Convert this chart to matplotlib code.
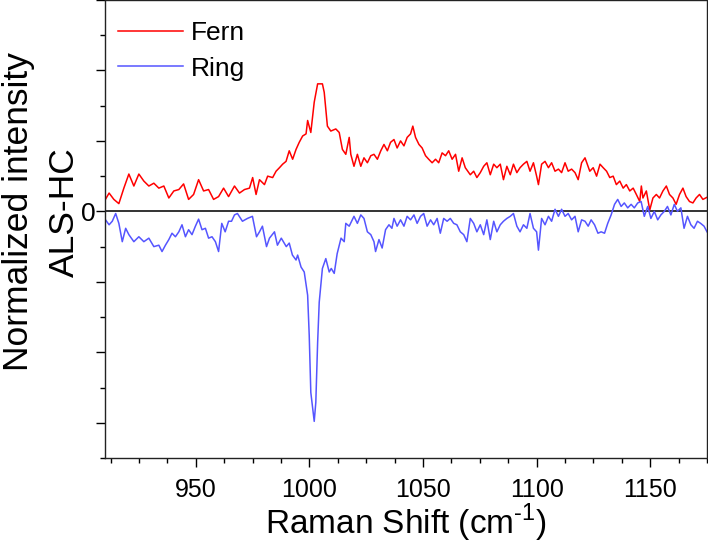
import matplotlib
matplotlib.use("Agg")
import matplotlib.pyplot as plt
from matplotlib.ticker import MultipleLocator, FuncFormatter

plt.rcParams['font.family'] = ['Liberation Sans', 'DejaVu Sans']

# Fern spectrum (red)
fern_x = [910.0, 911.8, 913.9, 916.1, 918.3, 920.5, 922.7, 924.9, 927.1, 929.3,
          931.5, 933.7, 935.9, 938.1, 940.3, 942.5, 944.6, 946.8, 949.0, 951.2,
          953.4, 955.6, 957.8, 960.0, 962.2, 964.4, 967.0, 969.2, 971.4, 973.6,
          975.0, 976.5, 978.0, 980.2, 981.6, 983.8, 985.3, 986.8, 988.2, 989.7,
          991.1, 992.6, 994.1, 995.5, 997.0, 998.5, 999.2, 1000.6, 1002.1, 1003.6,
          1005.7, 1006.5, 1007.9, 1009.4, 1011.6, 1013.1, 1014.5, 1016.0, 1017.5, 1018.2,
          1019.6, 1021.1, 1022.6, 1024.0, 1025.5, 1027.0, 1028.4, 1029.9, 1031.4, 1032.8,
          1034.3, 1035.7, 1037.2, 1038.6, 1040.1, 1041.6, 1043.0, 1044.5, 1045.5, 1046.7,
          1048.2, 1049.6, 1051.1, 1052.5, 1054.0, 1055.5, 1056.9, 1058.4, 1059.9, 1061.3,
          1062.8, 1064.3, 1065.7, 1067.2, 1068.6, 1070.8, 1072.3, 1073.7, 1075.2, 1076.7,
          1078.1, 1079.6, 1081.1, 1082.5, 1084.0, 1085.4, 1086.9, 1088.4, 1089.8, 1091.3,
          1092.7, 1094.2, 1095.7, 1097.1, 1098.6, 1100.0, 1100.8, 1102.2, 1103.7, 1105.2,
          1106.6, 1108.1, 1109.6, 1111.0, 1112.5, 1113.9, 1115.4, 1116.9, 1118.3, 1119.8,
          1121.3, 1123.4, 1124.9, 1126.4, 1127.9, 1129.3, 1130.8, 1132.2, 1133.7, 1135.1,
          1136.6, 1138.1, 1139.5, 1141.0, 1142.5, 1143.9, 1145.4, 1146.1, 1146.8, 1148.3,
          1149.8, 1151.2, 1152.7, 1154.1, 1155.6, 1157.1, 1158.5, 1160.0, 1161.4, 1162.9,
          1164.4, 1165.8, 1167.3, 1168.8, 1170.2, 1171.7, 1173.2, 1175.0]
fern_y = [0.16, 0.26, 0.17, 0.11, 0.33, 0.53, 0.36, 0.53, 0.43, 0.36,
          0.40, 0.33, 0.36, 0.19, 0.29, 0.31, 0.39, 0.17, 0.24, 0.45,
          0.29, 0.31, 0.17, 0.21, 0.33, 0.21, 0.36, 0.26, 0.31, 0.33,
          0.48, 0.24, 0.45, 0.38, 0.50, 0.48, 0.57, 0.62, 0.67, 0.71,
          0.86, 0.74, 0.88, 0.98, 1.07, 1.10, 1.29, 1.12, 1.55, 1.81,
          1.81, 1.69, 1.21, 1.14, 1.17, 1.12, 0.88, 0.81, 1.05, 0.81,
          0.64, 0.81, 0.64, 0.76, 0.69, 0.79, 0.81, 0.74, 0.86, 0.95,
          0.86, 0.98, 1.02, 0.90, 1.00, 0.93, 1.05, 1.10, 1.21, 1.05,
          0.95, 0.90, 0.79, 0.74, 0.69, 0.74, 0.69, 0.83, 0.79, 0.86,
          0.74, 0.81, 0.57, 0.76, 0.62, 0.52, 0.57, 0.48, 0.55, 0.64,
          0.69, 0.52, 0.67, 0.62, 0.67, 0.45, 0.64, 0.52, 0.67, 0.55,
          0.62, 0.67, 0.71, 0.57, 0.69, 0.50, 0.38, 0.67, 0.71, 0.62,
          0.69, 0.57, 0.60, 0.55, 0.69, 0.57, 0.60, 0.55, 0.45, 0.69,
          0.76, 0.57, 0.62, 0.50, 0.67, 0.62, 0.57, 0.48, 0.50, 0.38,
          0.43, 0.33, 0.38, 0.29, 0.33, 0.24, 0.14, 0.36, 0.19, 0.29,
          0.02, 0.19, 0.24, 0.19, 0.29, 0.36, 0.24, 0.19, 0.10, 0.24,
          0.33, 0.21, 0.14, 0.12, 0.19, 0.24, 0.17, 0.20]

# Ring spectrum (blue)
ring_x = [910.0, 911.8, 913.2, 914.7, 916.1, 917.6, 919.1, 920.5, 922.7, 924.9,
          927.1, 929.3, 931.5, 933.7, 935.1, 936.6, 938.1, 939.5, 941.0, 942.5,
          943.9, 945.4, 946.8, 948.3, 949.8, 951.2, 952.7, 954.2, 955.6, 957.1,
          958.6, 960.0, 961.4, 962.9, 964.4, 965.7, 967.0, 968.3, 970.5, 972.7,
          974.9, 976.7, 978.0, 979.3, 981.1, 982.4, 984.6, 985.9, 987.6, 989.8,
          991.1, 992.5, 994.1, 994.8, 996.3, 997.7, 999.2, 999.9, 1000.6, 1002.1,
          1002.8, 1003.6, 1004.3, 1005.7, 1007.2, 1008.7, 1009.6, 1010.9, 1012.2, 1013.9,
          1015.3, 1016.0, 1017.5, 1019.6, 1021.1, 1022.6, 1024.0, 1025.5, 1027.0, 1028.4,
          1029.1, 1030.6, 1032.0, 1033.5, 1035.0, 1036.3, 1037.2, 1038.6, 1040.1, 1041.6,
          1043.0, 1044.5, 1046.0, 1047.4, 1048.9, 1050.3, 1051.8, 1053.3, 1054.7, 1056.2,
          1057.6, 1059.1, 1060.6, 1062.0, 1063.5, 1064.9, 1066.4, 1067.9, 1069.3, 1070.8,
          1072.3, 1073.7, 1075.2, 1076.7, 1078.1, 1079.6, 1081.1, 1082.5, 1084.0, 1085.4,
          1086.9, 1088.4, 1089.8, 1091.3, 1092.7, 1094.2, 1095.7, 1097.1, 1098.6, 1100.0,
          1100.8, 1102.2, 1103.7, 1105.2, 1106.6, 1108.1, 1109.6, 1111.0, 1112.5, 1113.9,
          1115.4, 1116.9, 1118.3, 1119.8, 1121.3, 1122.7, 1124.0, 1125.5, 1127.0, 1128.4,
          1129.9, 1131.3, 1132.8, 1134.3, 1135.7, 1137.2, 1138.6, 1140.1, 1141.6, 1143.0,
          1144.5, 1146.0, 1147.4, 1148.9, 1150.3, 1151.8, 1153.3, 1154.7, 1156.2, 1157.6,
          1159.1, 1160.6, 1162.0, 1163.5, 1164.9, 1166.4, 1167.9, 1169.3, 1170.8, 1172.2,
          1173.7, 1175.0]
ring_y = [-0.11, -0.19, -0.14, -0.03, -0.17, -0.43, -0.24, -0.33, -0.43, -0.36,
          -0.43, -0.38, -0.50, -0.48, -0.57, -0.48, -0.40, -0.31, -0.36, -0.29,
          -0.19, -0.36, -0.26, -0.33, -0.21, -0.11, -0.26, -0.24, -0.38, -0.36,
          -0.43, -0.57, -0.17, -0.29, -0.14, -0.14, -0.05, -0.03, -0.14, -0.10,
          -0.07, -0.36, -0.29, -0.21, -0.50, -0.38, -0.29, -0.48, -0.38, -0.50,
          -0.45, -0.62, -0.69, -0.62, -0.79, -0.86, -1.19, -1.76, -2.57, -2.98,
          -2.71, -1.86, -1.29, -0.81, -0.67, -0.86, -0.81, -0.88, -0.60, -0.38,
          -0.43, -0.17, -0.21, -0.07, -0.17, -0.05, -0.10, -0.29, -0.33, -0.43,
          -0.57, -0.40, -0.52, -0.26, -0.19, -0.24, -0.10, -0.21, -0.12, -0.21,
          -0.07, -0.12, -0.05, -0.17, -0.07, -0.03, -0.21, -0.12, -0.19, -0.10,
          -0.31, -0.10, -0.14, -0.10, -0.17, -0.19, -0.29, -0.33, -0.43, -0.10,
          -0.17, -0.29, -0.19, -0.33, -0.12, -0.40, -0.14, -0.29, -0.19, -0.14,
          -0.10, -0.07, -0.03, -0.21, -0.29, -0.19, -0.24, -0.03, -0.24, -0.29,
          -0.55, -0.10, -0.19, -0.07, -0.14, 0.03, -0.07, 0.03, -0.07, -0.03,
          -0.12, -0.07, -0.29, -0.12, -0.14, -0.21, -0.12, -0.19, -0.31, -0.29,
          -0.31, -0.17, -0.05, 0.10, 0.17, 0.07, 0.12, 0.05, 0.10, 0.05,
          0.12, 0.14, -0.07, 0.07, -0.10, 0.00, -0.12, -0.05, 0.00, 0.07,
          -0.05, 0.10, 0.00, 0.05, -0.24, -0.07, -0.19, -0.24, -0.14, -0.17,
          -0.21, -0.29]

fig = plt.figure(figsize=(7.08, 5.43), dpi=100)
ax = fig.add_axes([105 / 708, 85 / 543, 602 / 708, 458 / 543])

ax.plot(fern_x, fern_y, color='#ff0000', lw=1.1, label='Fern')
ax.plot(ring_x, ring_y, color='#5555ff', lw=1.1, label='Ring')
ax.axhline(0, color='#333333', lw=1.4, zorder=1)

ax.set_xlim(910, 1175)
ax.set_ylim(-3.5, 3.0)

ax.xaxis.set_major_locator(MultipleLocator(50))
ax.xaxis.set_minor_locator(MultipleLocator(12.5))
ax.yaxis.set_major_locator(MultipleLocator(1))
ax.yaxis.set_minor_locator(MultipleLocator(0.5))
ax.yaxis.set_major_formatter(FuncFormatter(lambda v, p: '0' if abs(v) < 1e-9 else ''))

ax.tick_params(which='major', direction='out', length=6.5, width=1.0, labelsize=18)
ax.tick_params(which='minor', direction='out', length=3.8, width=1.0)
ax.tick_params(axis='x', which='major', pad=8)
ax.tick_params(axis='y', which='major', pad=0, labelsize=19)
for s in ax.spines.values():
    s.set_linewidth(1.0)
    s.set_color('#222222')

ax.set_xlabel('Raman Shift (cm$^{\\mathregular{\u2010}\\mathregular{1}}$)', fontsize=24, labelpad=0)
fig.text(0.058, 0.61, 'Normalized intensity\nALS-HC', rotation=90, fontsize=25.5,
         ha='center', va='center', multialignment='center', linespacing=1.5)

ax.legend(loc='upper left', bbox_to_anchor=(0.0083, 0.972), frameon=False,
          fontsize=19, handlelength=2.45, handletextpad=0.3, labelspacing=0.45,
          borderaxespad=0.0, borderpad=0.3)

fig.savefig('out.png', dpi=100)
